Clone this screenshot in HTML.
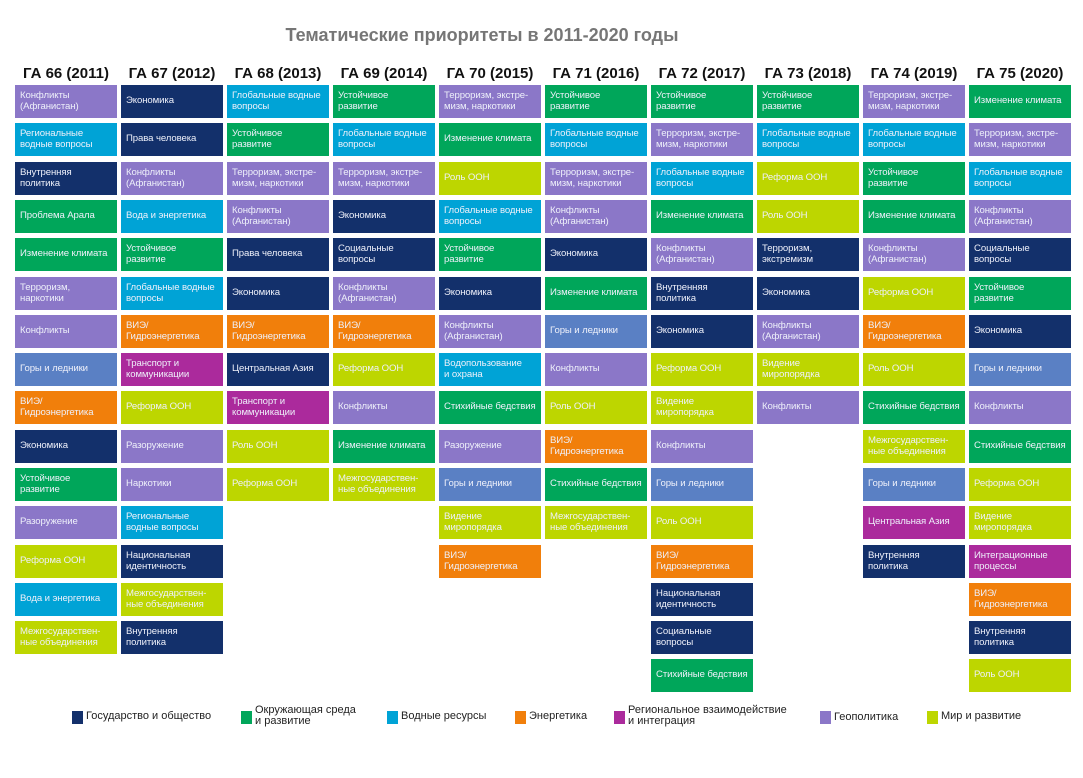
<!DOCTYPE html>
<html><head><meta charset="utf-8"><style>
body{margin:0;width:1083px;height:778px;background:#fff;position:relative;overflow:hidden;font-family:"Liberation Sans",sans-serif}
.t{position:absolute;left:0;width:964px;top:25px;text-align:center;font-size:18px;font-weight:bold;color:#767676}
.h{position:absolute;top:65px;width:104px;text-align:center;font-size:15px;font-weight:bold;color:#111}
.b{position:absolute;width:102px;height:33px;box-sizing:border-box;padding:0 5px;display:flex;align-items:center;font-size:9.6px;line-height:10.5px;color:#eef0fa;letter-spacing:-0.1px}
.N{background:#13306b}.G{background:#00a65a}.B{background:#00a3d6}.O{background:#f17f0b}.M{background:#ab2a9c}.P{background:#8b77c8}.L{background:#bdd600}.S{background:#5a80c4}
.c1{left:15px}.c2{left:121px}.c3{left:227px}.c4{left:333px}.c5{left:439px}.c6{left:545px}.c7{left:651px}.c8{left:757px}.c9{left:863px}.c10{left:969px}
.r0{top:85px}.r1{top:123px}.r2{top:162px}.r3{top:200px}.r4{top:238px}.r5{top:277px}.r6{top:315px}.r7{top:353px}.r8{top:391px}.r9{top:430px}.r10{top:468px}.r11{top:506px}.r12{top:545px}.r13{top:583px}.r14{top:621px}.r15{top:659px}
.lg{position:absolute;top:711px;width:11px;height:13px}
.lt{position:absolute;font-size:11px;color:#222;line-height:11px}
</style></head><body>
<div class="t">Тематические приоритеты в 2011-2020 годы</div>
<div class="h" style="left:14px">ГА 66 (2011)</div>
<div class="h" style="left:120px">ГА 67 (2012)</div>
<div class="h" style="left:226px">ГА 68 (2013)</div>
<div class="h" style="left:332px">ГА 69 (2014)</div>
<div class="h" style="left:438px">ГА 70 (2015)</div>
<div class="h" style="left:544px">ГА 71 (2016)</div>
<div class="h" style="left:650px">ГА 72 (2017)</div>
<div class="h" style="left:756px">ГА 73 (2018)</div>
<div class="h" style="left:862px">ГА 74 (2019)</div>
<div class="h" style="left:968px">ГА 75 (2020)</div>

<div class="b P c1 r0">Конфликты<br>(Афганистан)</div>
<div class="b B c1 r1">Региональные<br>водные вопросы</div>
<div class="b N c1 r2">Внутренняя<br>политика</div>
<div class="b G c1 r3">Проблема Арала</div>
<div class="b G c1 r4">Изменение климата</div>
<div class="b P c1 r5">Терроризм,<br>наркотики</div>
<div class="b P c1 r6">Конфликты</div>
<div class="b S c1 r7">Горы и ледники</div>
<div class="b O c1 r8">ВИЭ/<br>Гидроэнергетика</div>
<div class="b N c1 r9">Экономика</div>
<div class="b G c1 r10">Устойчивое<br>развитие</div>
<div class="b P c1 r11">Разоружение</div>
<div class="b L c1 r12">Реформа ООН</div>
<div class="b B c1 r13">Вода и энергетика</div>
<div class="b L c1 r14">Межгосударствен-<br>ные объединения</div>

<div class="b N c2 r0">Экономика</div>
<div class="b N c2 r1">Права человека</div>
<div class="b P c2 r2">Конфликты<br>(Афганистан)</div>
<div class="b B c2 r3">Вода и энергетика</div>
<div class="b G c2 r4">Устойчивое<br>развитие</div>
<div class="b B c2 r5">Глобальные водные<br>вопросы</div>
<div class="b O c2 r6">ВИЭ/<br>Гидроэнергетика</div>
<div class="b M c2 r7">Транспорт и<br>коммуникации</div>
<div class="b L c2 r8">Реформа ООН</div>
<div class="b P c2 r9">Разоружение</div>
<div class="b P c2 r10">Наркотики</div>
<div class="b B c2 r11">Региональные<br>водные вопросы</div>
<div class="b N c2 r12">Национальная<br>идентичность</div>
<div class="b L c2 r13">Межгосударствен-<br>ные объединения</div>
<div class="b N c2 r14">Внутренняя<br>политика</div>

<div class="b B c3 r0">Глобальные водные<br>вопросы</div>
<div class="b G c3 r1">Устойчивое<br>развитие</div>
<div class="b P c3 r2">Терроризм, экстре-<br>мизм, наркотики</div>
<div class="b P c3 r3">Конфликты<br>(Афганистан)</div>
<div class="b N c3 r4">Права человека</div>
<div class="b N c3 r5">Экономика</div>
<div class="b O c3 r6">ВИЭ/<br>Гидроэнергетика</div>
<div class="b N c3 r7">Центральная Азия</div>
<div class="b M c3 r8">Транспорт и<br>коммуникации</div>
<div class="b L c3 r9">Роль ООН</div>
<div class="b L c3 r10">Реформа ООН</div>

<div class="b G c4 r0">Устойчивое<br>развитие</div>
<div class="b B c4 r1">Глобальные водные<br>вопросы</div>
<div class="b P c4 r2">Терроризм, экстре-<br>мизм, наркотики</div>
<div class="b N c4 r3">Экономика</div>
<div class="b N c4 r4">Социальные<br>вопросы</div>
<div class="b P c4 r5">Конфликты<br>(Афганистан)</div>
<div class="b O c4 r6">ВИЭ/<br>Гидроэнергетика</div>
<div class="b L c4 r7">Реформа ООН</div>
<div class="b P c4 r8">Конфликты</div>
<div class="b G c4 r9">Изменение климата</div>
<div class="b L c4 r10">Межгосударствен-<br>ные объединения</div>

<div class="b P c5 r0">Терроризм, экстре-<br>мизм, наркотики</div>
<div class="b G c5 r1">Изменение климата</div>
<div class="b L c5 r2">Роль ООН</div>
<div class="b B c5 r3">Глобальные водные<br>вопросы</div>
<div class="b G c5 r4">Устойчивое<br>развитие</div>
<div class="b N c5 r5">Экономика</div>
<div class="b P c5 r6">Конфликты<br>(Афганистан)</div>
<div class="b B c5 r7">Водопользование<br>и охрана</div>
<div class="b G c5 r8">Стихийные бедствия</div>
<div class="b P c5 r9">Разоружение</div>
<div class="b S c5 r10">Горы и ледники</div>
<div class="b L c5 r11">Видение<br>миропорядка</div>
<div class="b O c5 r12">ВИЭ/<br>Гидроэнергетика</div>

<div class="b G c6 r0">Устойчивое<br>развитие</div>
<div class="b B c6 r1">Глобальные водные<br>вопросы</div>
<div class="b P c6 r2">Терроризм, экстре-<br>мизм, наркотики</div>
<div class="b P c6 r3">Конфликты<br>(Афганистан)</div>
<div class="b N c6 r4">Экономика</div>
<div class="b G c6 r5">Изменение климата</div>
<div class="b S c6 r6">Горы и ледники</div>
<div class="b P c6 r7">Конфликты</div>
<div class="b L c6 r8">Роль ООН</div>
<div class="b O c6 r9">ВИЭ/<br>Гидроэнергетика</div>
<div class="b G c6 r10">Стихийные бедствия</div>
<div class="b L c6 r11">Межгосударствен-<br>ные объединения</div>

<div class="b G c7 r0">Устойчивое<br>развитие</div>
<div class="b P c7 r1">Терроризм, экстре-<br>мизм, наркотики</div>
<div class="b B c7 r2">Глобальные водные<br>вопросы</div>
<div class="b G c7 r3">Изменение климата</div>
<div class="b P c7 r4">Конфликты<br>(Афганистан)</div>
<div class="b N c7 r5">Внутренняя<br>политика</div>
<div class="b N c7 r6">Экономика</div>
<div class="b L c7 r7">Реформа ООН</div>
<div class="b L c7 r8">Видение<br>миропорядка</div>
<div class="b P c7 r9">Конфликты</div>
<div class="b S c7 r10">Горы и ледники</div>
<div class="b L c7 r11">Роль ООН</div>
<div class="b O c7 r12">ВИЭ/<br>Гидроэнергетика</div>
<div class="b N c7 r13">Национальная<br>идентичность</div>
<div class="b N c7 r14">Социальные<br>вопросы</div>
<div class="b G c7 r15">Стихийные бедствия</div>

<div class="b G c8 r0">Устойчивое<br>развитие</div>
<div class="b B c8 r1">Глобальные водные<br>вопросы</div>
<div class="b L c8 r2">Реформа ООН</div>
<div class="b L c8 r3">Роль ООН</div>
<div class="b N c8 r4">Терроризм,<br>экстремизм</div>
<div class="b N c8 r5">Экономика</div>
<div class="b P c8 r6">Конфликты<br>(Афганистан)</div>
<div class="b L c8 r7">Видение<br>миропорядка</div>
<div class="b P c8 r8">Конфликты</div>

<div class="b P c9 r0">Терроризм, экстре-<br>мизм, наркотики</div>
<div class="b B c9 r1">Глобальные водные<br>вопросы</div>
<div class="b G c9 r2">Устойчивое<br>развитие</div>
<div class="b G c9 r3">Изменение климата</div>
<div class="b P c9 r4">Конфликты<br>(Афганистан)</div>
<div class="b L c9 r5">Реформа ООН</div>
<div class="b O c9 r6">ВИЭ/<br>Гидроэнергетика</div>
<div class="b L c9 r7">Роль ООН</div>
<div class="b G c9 r8">Стихийные бедствия</div>
<div class="b L c9 r9">Межгосударствен-<br>ные объединения</div>
<div class="b S c9 r10">Горы и ледники</div>
<div class="b M c9 r11">Центральная Азия</div>
<div class="b N c9 r12">Внутренняя<br>политика</div>

<div class="b G c10 r0">Изменение климата</div>
<div class="b P c10 r1">Терроризм, экстре-<br>мизм, наркотики</div>
<div class="b B c10 r2">Глобальные водные<br>вопросы</div>
<div class="b P c10 r3">Конфликты<br>(Афганистан)</div>
<div class="b N c10 r4">Социальные<br>вопросы</div>
<div class="b G c10 r5">Устойчивое<br>развитие</div>
<div class="b N c10 r6">Экономика</div>
<div class="b S c10 r7">Горы и ледники</div>
<div class="b P c10 r8">Конфликты</div>
<div class="b G c10 r9">Стихийные бедствия</div>
<div class="b L c10 r10">Реформа ООН</div>
<div class="b L c10 r11">Видение<br>миропорядка</div>
<div class="b M c10 r12">Интеграционные<br>процессы</div>
<div class="b O c10 r13">ВИЭ/<br>Гидроэнергетика</div>
<div class="b N c10 r14">Внутренняя<br>политика</div>
<div class="b L c10 r15">Роль ООН</div>

<div class="lg N" style="left:72px"></div><div class="lt" style="left:86px;top:711px">Государство и общество</div>
<div class="lg G" style="left:241px"></div><div class="lt" style="left:255px;top:705px">Окружающая среда<br>и развитие</div>
<div class="lg B" style="left:387px"></div><div class="lt" style="left:401px;top:711px">Водные ресурсы</div>
<div class="lg O" style="left:515px"></div><div class="lt" style="left:529px;top:711px">Энергетика</div>
<div class="lg M" style="left:614px"></div><div class="lt" style="left:628px;top:705px">Региональное взаимодействие<br>и интеграция</div>
<div class="lg P" style="left:820px"></div><div class="lt" style="left:834px;top:712px">Геополитика</div>
<div class="lg L" style="left:927px"></div><div class="lt" style="left:941px;top:711px">Мир и развитие</div>
</body></html>
